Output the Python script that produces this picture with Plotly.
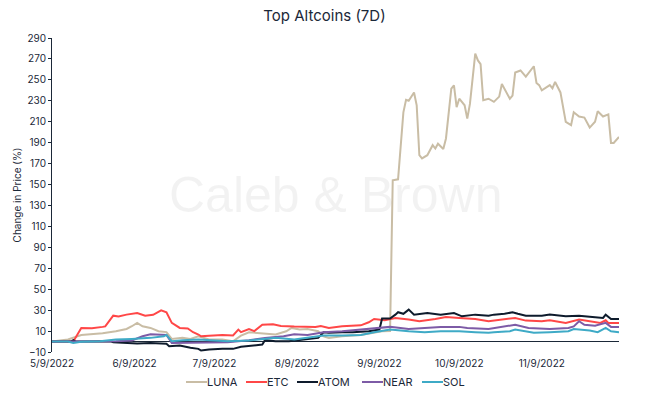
import pandas as pd
import plotly.graph_objects as go

START = pd.Timestamp("2022-05-09")

# day offsets from START and % change
luna_day = [0, 6, 11, 15, 19, 24, 28, 30, 32, 34, 37, 40, 43, 45, 49, 52, 55, 59, 64, 68, 71, 74, 79, 84, 88, 90, 93, 96, 100, 102, 104, 109, 116, 121, 124, 127,
            128, 130, 132, 133, 134, 136, 137, 138, 139, 141, 143, 144, 145, 147, 148, 150, 151, 152, 153, 155, 156, 157, 159, 160, 161, 162, 164, 166, 168, 169,
            172, 173, 174, 176, 178, 181, 182, 183, 184, 187, 188, 189, 191, 193, 195, 196, 198, 200, 202, 204, 205, 207, 209, 210, 211, 213]
luna_pct = [0, 1.9, 6.3, 7, 7.9, 9.8, 12, 14.6, 17.8, 14.6, 13, 9.8, 9, 2.5, 3.5, 2.5, 5, 2, 1.9, 0.3, 5.7, 8.9, 7.6, 6.7, 9.8, 13, 11.5, 12, 9.8, 5, 3.5, 5, 6.3, 8.9, 9.8, 10,
            154, 155, 219, 231, 230, 238, 225.7, 178, 175, 178, 187.6, 184.4, 189, 184, 194, 241.6, 244.8, 224, 232, 225.7, 213, 227, 275, 268.6, 265, 230.5, 232, 229, 234, 246,
            232, 235, 257, 259, 253, 263, 247, 245, 240, 245, 242, 248, 238, 209.8, 206.7, 219, 215, 214, 204.4, 210, 220, 215, 217, 189.8, 189.8, 195.5]

etc_day = [0, 8, 11, 15, 19, 20, 23, 25, 28, 32, 35, 38, 41, 43, 45, 48, 51, 53, 55, 56, 59, 64, 68, 70, 71, 74, 76, 78, 79, 83, 86, 91, 95, 99, 101, 104, 109,
           112, 116, 119, 121, 125, 129, 134, 138, 144, 148, 153, 159, 164, 167, 171, 174, 178, 184, 187, 193, 198, 202, 206, 208, 209, 213]
etc_pct = [0, 0, 13, 12.6, 14, 14.5, 24.7, 24, 25.7, 27.3, 24.7, 25.5, 29.8, 28, 17.8, 13, 12.5, 8.9, 6.7, 5, 5.5, 6.3, 5.8, 11.4, 9, 12, 10, 14.6, 16, 16.5, 14.9,
           14.3, 14.3, 13.8, 14.9, 13, 14.6, 15, 15.5, 18.4, 21.6, 20.3, 22.5, 21, 19.4, 21.6, 23.5, 22.5, 21.6, 19.4, 20.5, 21.5, 22.5, 20, 19.4, 20.3, 17.8, 21, 19.4,
           17.8, 20.3, 17.8, 17.8]

atom_day = [0, 7, 8, 9, 11, 20, 22, 23, 28, 32, 37, 43, 44, 48, 52, 55, 56, 59, 64, 68, 71, 76, 79, 80, 84, 89, 94, 98, 100, 102, 104, 109, 113, 119, 123, 124,
            127, 129, 130, 132, 134, 136, 141, 146, 151, 154, 159, 164, 166, 170, 173, 175, 178, 184, 187, 193, 198, 203, 207, 208, 210, 213]
atom_pct = [0, 0, 1.3, 0, 0, 0, 0.3, -0.6, -1.3, -1.9, -1.3, -2.2, -4.4, -3.8, -6, -7, -8.6, -7.6, -7, -7, -5, -3.8, -2.9, 1.3, 0.3, 0.3, 1.6, 2.5, 3.5, 8.9,
            8.3, 8.9, 8.9, 9.8, 11.4, 22, 22, 25.7, 28, 26.5, 30.5, 25.7, 27.3, 25.7, 27.3, 24.1, 25.7, 24.7, 25.7, 26.5, 28, 26.5, 24.7, 24.7, 25.7, 24.1, 24.7,
            23.5, 22.5, 25.7, 21.6, 21.6]

near_day = [0, 19, 24, 30, 34, 37, 40, 43, 45, 49, 55, 60, 66, 74, 80, 87, 91, 96, 102, 109, 116, 121, 127, 134, 140, 146, 153, 156, 164, 169, 174, 179, 187,
            194, 196, 198, 200, 204, 208, 210, 213]
near_pct = [0, 0, 0.3, 1, 5, 7, 6.3, 6.3, -1.3, -1.3, -0.6, -1.3, -0.6, 1.3, 3.5, 5, 7, 6.3, 8.9, 9.8, 11.4, 12, 14, 12, 13, 14, 14, 13, 12, 14, 16, 13, 12,
            13, 14.5, 19.4, 16, 15, 17.8, 14, 14]

sol_day = [0, 6, 8, 11, 18, 24, 30, 37, 42, 43, 45, 49, 55, 66, 74, 79, 84, 91, 95, 102, 109, 116, 121, 127, 134, 140, 146, 153, 159, 164, 166, 172, 174, 178,
           181, 187, 194, 196, 202, 205, 208, 210, 213]
sol_pct = [0, 0, -1.3, -0.3, 0.3, 1.9, 2.5, 3.5, 5, 6.3, 0.3, 1.3, 1.9, 0.3, 1, 1.9, 3.5, 1.9, 3.5, 5.7, 5.7, 6.3, 8.9, 11.4, 9.8, 8.9, 9.8, 9.8, 8.9, 8.3,
           8.9, 9.8, 11.4, 9.8, 8.3, 8.9, 9.8, 12, 10.5, 8.9, 13, 9.8, 8.9]

series_names = ["LUNA", "ETC", "ATOM", "NEAR", "SOL"]
series_colors = ["#C9BDA5", "#FF4747", "#0E1B2C", "#7D5BA6", "#3EAAC6"]
series_data = [(luna_day, luna_pct), (etc_day, etc_pct), (atom_day, atom_pct), (near_day, near_pct), (sol_day, sol_pct)]

tick_dates = ["2022-05-09", "2022-06-09", "2022-07-09", "2022-08-09", "2022-09-09", "2022-10-09", "2022-11-09"]
tick_labels = ["5/9/2022", "6/9/2022", "7/9/2022", "8/9/2022", "9/9/2022", "10/9/2022", "11/9/2022"]
y_ticks = list(range(-10, 291, 20))

FONT = "Inter, Lato, sans-serif"
DARK = "#1B2838"

W, H = 649, 396
ML, MR, MT, MB = 52, 30, 38, 44
PW = W - ML - MR
PH = H - MT - MB

fig = go.Figure()
for i in range(len(series_names)):
    days, pct = series_data[i]
    dates = [START + pd.Timedelta(days=d) for d in days]
    fig.add_trace(go.Scatter(x=dates, y=pct, mode="lines", name=series_names[i],
                             line=dict(color=series_colors[i], width=2), showlegend=False))

end_date = START + pd.Timedelta(days=213)

# compact legend below the plot (short line swatch directly followed by label)
legend_text_px = [207, 267, 318, 383, 443]   # left edge of each label, in pixels
legend_y = (H - MB - 382) / PH
shapes = []
annotations = []
for name, color, tx in zip(series_names, series_colors, legend_text_px):
    x1 = (tx - ML) / PW
    x0 = (tx - 21 - ML) / PW
    shapes.append(dict(type="line", xref="paper", yref="paper", x0=x0, x1=x1, y0=legend_y, y1=legend_y,
                       line=dict(color=color, width=2)))
    annotations.append(dict(text=name, xref="paper", yref="paper", x=x1, y=legend_y, xanchor="left",
                            yanchor="middle", showarrow=False, xshift=-2,
                            font=dict(family=FONT, size=11, color=DARK)))

annotations.append(dict(text="Caleb &amp; Brown", x=0.5, y=0.5, xref="paper", yref="paper",
                        showarrow=False, font=dict(family="Liberation Sans, Arial", size=50,
                                                   color="rgba(0,0,0,0.05)")))

fig.update_layout(
    width=W, height=H,
    margin=dict(l=ML, r=MR, t=MT, b=MB),
    paper_bgcolor="white", plot_bgcolor="white",
    title=dict(text="Top Altcoins (7D)", x=0.5, xanchor="center", y=0.96, yanchor="middle",
               font=dict(family=FONT, size=15, color=DARK)),
    font=dict(family=FONT, size=10, color=DARK),
    showlegend=False,
    shapes=shapes,
    annotations=annotations,
)
fig.update_xaxes(range=[START, end_date], tickvals=tick_dates, ticktext=tick_labels,
                 showgrid=False, showline=False, zeroline=False, ticks="outside", ticklen=2,
                 tickcolor="rgba(0,0,0,0)", automargin=False,
                 tickfont=dict(family=FONT, size=10, color=DARK))
fig.update_yaxes(range=[-10, 290], tickvals=y_ticks, showgrid=False, automargin=False,
                 showline=True, linecolor=DARK, linewidth=1, ticks="outside", ticklen=3,
                 tickcolor=DARK, zeroline=True, zerolinecolor=DARK, zerolinewidth=1,
                 title=dict(text="Change in Price (%)", font=dict(family=FONT, size=10, color=DARK), standoff=3),
                 tickfont=dict(family=FONT, size=10, color=DARK))

fig.write_html("out.html", config={"displayModeBar": False},
               post_script="document.body.style.margin='0';")
